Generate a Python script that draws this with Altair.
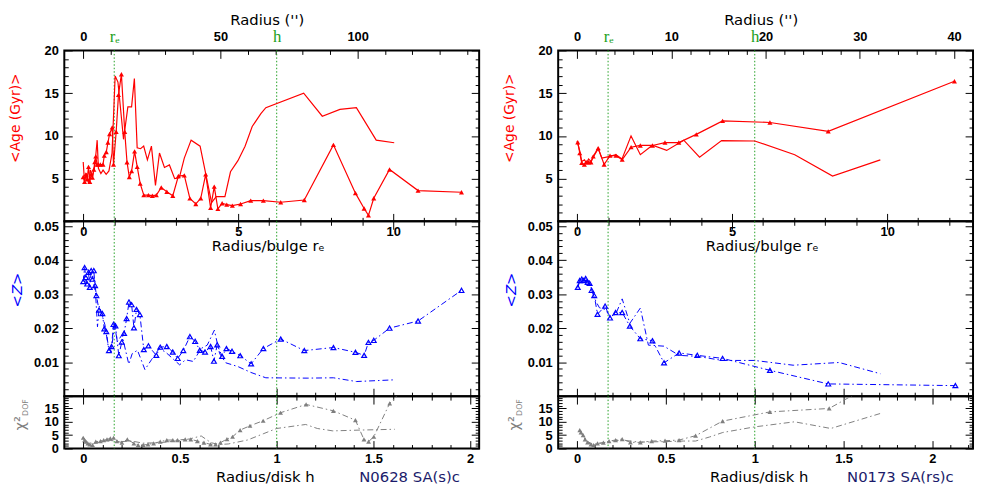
import altair as alt
import pandas as pd

# ---------------- values ----------------
# left galaxy
L_NAME = "N0628 SA(s)c"
L_RE_ARCSEC = 11.3           # bulge r_e in arcsec
L_H_RE = 6.24                # disk scale length h in units of r_e
L_ARC_LABELS = [0, 50, 100]
L_ARC_MINOR = [10, 20, 30, 40, 60, 70, 80, 90, 110, 120, 130, 140]

L_AGE_A_R = [0.0, 0.044, 0.086, 0.128, 0.171, 0.213, 0.256, 0.298, 0.341, 0.373, 0.404, 0.447, 0.489, 0.553,
             0.638, 0.68, 0.744, 0.797, 0.85, 0.935, 0.977, 1.063, 1.137, 1.232, 1.339, 1.413, 1.487, 1.561,
             1.657, 1.742, 1.838, 1.954, 2.103, 2.23, 2.358, 2.517, 2.697, 2.889, 3.069, 3.26, 3.44, 3.632,
             3.791, 3.95, 4.109, 4.226, 4.343, 4.481, 4.63, 4.81, 5.075, 5.404, 5.81, 6.37, 7.13, 8.07, 8.78,
             9.06, 9.20, 9.37, 9.88, 10.80, 12.20]
L_AGE_A = [5.19, 4.61, 5.49, 4.92, 6.38, 4.61, 5.49, 5.11, 6.07, 6.95, 7.61, 6.65, 6.65, 6.65, 6.65, 7.69, 8.11,
           9.22, 10.22, 10.99, 6.65, 10.49, 14.8, 17.22, 10.49, 6.92, 5.19, 5.88, 8.19, 6.38, 4.42, 3.07, 3.07,
           3.0, 3.07, 3.96, 3.46, 3.0, 5.3, 5.38, 2.69, 2.03, 2.69, 5.49, 1.57, 4.07, 1.46, 2.11, 1.96, 1.84,
           2.03, 2.42, 2.42, 2.23, 2.5, 8.95, 3.3, 1.5, 0.7, 2.7, 6.07, 3.6, 3.4]
L_AGE_B_R = [0.0, 0.04, 0.10, 0.17, 0.23, 0.30, 0.36, 0.40, 0.45, 0.49, 0.57, 0.64, 0.74, 0.83, 0.93, 1.03, 1.12,
             1.30, 1.44, 1.56, 1.65, 1.74, 1.85, 1.95, 2.07, 2.20, 2.33, 2.46, 2.62, 2.78, 2.95, 3.10, 3.26, 3.48,
             3.77, 4.14, 4.29, 4.57, 4.75, 4.99, 5.22, 5.45, 5.73, 5.89, 7.11, 7.71, 8.28, 8.81, 9.45, 10.03]
L_AGE_B = [6.95, 4.7, 5.6, 4.5, 6.0, 5.3, 6.2, 7.5, 9.5, 6.2, 5.6, 6.0, 5.5, 5.9, 8.0, 17.0, 16.3, 9.6, 13.4, 13.4,
           16.7, 8.6, 8.5, 8.8, 7.2, 8.8, 4.2, 8.0, 6.3, 6.6, 5.0, 5.1, 7.4, 9.5, 8.8, 2.2, 2.9, 2.9, 5.8, 7.1,
           8.8, 11.1, 12.6, 13.3, 15.0, 12.3, 13.1, 13.3, 9.5, 9.2]
L_Z_A_R = [0.0, 0.044, 0.086, 0.128, 0.171, 0.213, 0.256, 0.298, 0.341, 0.383, 0.425, 0.51, 0.617, 0.68, 0.744,
           0.829, 0.914, 0.977, 1.04, 1.148, 1.243, 1.318, 1.4, 1.477, 1.561, 1.636, 1.72, 1.827, 1.954, 2.103,
           2.358, 2.485, 2.697, 2.889, 3.048, 3.228, 3.44, 3.61, 3.76, 3.929, 4.109, 4.215, 4.321, 4.481, 4.619,
           4.8, 5.065, 5.415, 5.81, 6.37, 7.13, 8.07, 8.78, 9.06, 9.20, 9.37, 9.88, 10.80, 12.20]
L_Z_A = [0.0337, 0.0378, 0.0349, 0.0330, 0.0364, 0.0320, 0.0369, 0.0344, 0.0369, 0.0325, 0.0296, 0.0253, 0.0243,
         0.0198, 0.0190, 0.0134, 0.0146, 0.0211, 0.0207, 0.0119, 0.0159, 0.0185, 0.0228, 0.0277, 0.0269, 0.0201,
         0.0255, 0.0240, 0.0137, 0.0148, 0.0120, 0.0144, 0.0146, 0.0130, 0.0111, 0.0134, 0.0175, 0.0161, 0.0135,
         0.0130, 0.0146, 0.0103, 0.0151, 0.0117, 0.0140, 0.0132, 0.0119, 0.0095, 0.0140, 0.0168, 0.0134, 0.0143,
         0.0129, 0.0120, 0.0158, 0.0164, 0.0200, 0.0221, 0.0311]
L_Z_B_R = [0.0, 0.05, 0.10, 0.17, 0.25, 0.33, 0.40, 0.46, 0.52, 0.60, 0.70, 0.80, 0.90, 1.01, 1.10, 1.25, 1.47,
           1.58, 1.75, 1.99, 2.20, 2.45, 2.65, 3.11, 3.30, 3.55, 3.80, 4.00, 4.23, 4.40, 4.60, 4.99, 5.40, 5.89,
           7.22, 8.07, 8.81, 10.03]
L_Z_B = [0.0340, 0.0360, 0.0330, 0.0355, 0.0335, 0.0340, 0.0300, 0.0204, 0.0265, 0.0240, 0.0210, 0.0150, 0.0130,
         0.0210, 0.0160, 0.0180, 0.0094, 0.0125, 0.0135, 0.0078, 0.0107, 0.0140, 0.0130, 0.0092, 0.0107, 0.0102,
         0.0140, 0.0150, 0.0194, 0.0125, 0.0098, 0.0087, 0.0070, 0.0054, 0.0053, 0.0054, 0.0043, 0.0048]
L_CHI_A_H = [0.0, 0.007, 0.014, 0.024, 0.034, 0.048, 0.065, 0.089, 0.106, 0.123, 0.14, 0.157, 0.174, 0.2, 0.228,
             0.262, 0.284, 0.31, 0.335, 0.364, 0.398, 0.432, 0.463, 0.488, 0.527, 0.556, 0.59, 0.624, 0.658,
             0.684, 0.709, 0.743, 0.772, 0.811, 0.862, 0.93, 1.02, 1.152, 1.293, 1.407, 1.451, 1.475, 1.502,
             1.584, 1.73]
L_CHI_A = [4.04, 3.17, 2.55, 1.93, 1.56, 1.31, 2.55, 2.8, 3.17, 3.42, 3.79, 4.04, 2.8, 2.18, 3.42, 1.93, 1.31,
           1.31, 1.56, 1.93, 2.55, 3.17, 3.17, 3.17, 3.42, 3.42, 2.8, 2.18, 1.56, 1.56, 2.18, 3.54, 4.41, 6.9,
           8.52, 10.4, 13.4, 16.5, 14.1, 10.6, 3.4, 2.6, 4.4, 16.9, 28.0]
L_CHI_B_H = [0.0, 0.02, 0.05, 0.09, 0.14, 0.2, 0.25, 0.31, 0.4, 0.5, 0.55, 0.61, 0.66, 0.7, 0.75, 0.79, 0.85,
             0.93, 1.0, 1.15, 1.21, 1.29, 1.43, 1.61]
L_CHI_B = [4.0, 2.5, 1.8, 2.5, 3.0, 2.6, 2.8, 2.0, 2.2, 3.0, 3.6, 4.7, 2.2, 1.5, 1.7, 2.3, 3.2, 5.5, 7.5, 9.0, 7.5,
           6.6, 6.9, 7.2]

# right galaxy
R_NAME = "N0173 SA(rs)c"
R_RE_ARCSEC = 3.29
R_H_RE = 5.73
R_ARC_LABELS = [0, 10, 20, 30, 40]
R_ARC_MINOR = [2, 4, 6, 8, 12, 14, 16, 18, 22, 24, 26, 28, 32, 34, 36, 38]

R_AGE_A_R = [0.022, 0.086, 0.15, 0.235, 0.298, 0.373, 0.447, 0.521, 0.68, 0.872, 1.063, 1.254, 1.455, 1.742,
             2.039, 2.432, 2.835, 3.281, 3.844, 4.693, 6.22, 8.10, 12.17]
R_AGE_A = [9.26, 7.99, 6.84, 6.65, 6.92, 6.92, 6.92, 7.61, 8.57, 6.65, 7.69, 7.69, 7.22, 8.68, 8.88, 8.88, 9.22,
           9.22, 10.18, 11.76, 11.57, 10.53, 16.4]
R_AGE_B_R = [0.0, 0.09, 0.15, 0.24, 0.30, 0.37, 0.45, 0.52, 0.68, 0.80, 1.06, 1.25, 1.45, 1.74, 2.04, 2.43, 2.89,
             3.44, 3.95, 4.66, 5.73, 7.02, 8.24, 9.78]
R_AGE_B = [9.4, 8.2, 7.0, 7.2, 6.8, 7.3, 7.0, 7.5, 8.5, 7.4, 7.6, 7.8, 7.3, 10.0, 7.8, 8.9, 8.3, 9.5, 7.5, 9.45,
           9.4, 7.8, 5.3, 7.2]
R_Z_A_R = [0.022, 0.086, 0.15, 0.213, 0.277, 0.341, 0.404, 0.468, 0.553, 0.659, 0.903, 1.063, 1.243, 1.455, 1.70,
           2.039, 2.432, 2.804, 3.292, 3.876, 4.693, 6.22, 8.10, 12.20]
R_Z_A = [0.0320, 0.0340, 0.0344, 0.0340, 0.0346, 0.0335, 0.0332, 0.0311, 0.0296, 0.0241, 0.0265, 0.0230, 0.0246,
         0.0246, 0.0206, 0.0169, 0.0163, 0.0098, 0.0127, 0.0120, 0.0111, 0.0076, 0.0036, 0.0031]
R_Z_B_R = [0.022, 0.09, 0.2, 0.34, 0.45, 0.55, 0.63, 0.72, 0.90, 1.06, 1.24, 1.455, 1.70, 2.04, 2.30, 2.80, 3.29,
           3.88, 4.69, 5.73, 6.97, 8.45, 9.78]
R_Z_B = [0.0320, 0.0340, 0.0345, 0.0335, 0.0320, 0.0290, 0.0275, 0.0260, 0.0255, 0.0236, 0.0240, 0.0286, 0.0214,
         0.0259, 0.0150, 0.0147, 0.0120, 0.0117, 0.0105, 0.0105, 0.0091, 0.0099, 0.0066]
R_CHI_A_H = [0.015, 0.022, 0.034, 0.045, 0.059, 0.078, 0.093, 0.115, 0.148, 0.18, 0.217, 0.254, 0.30, 0.356, 0.42,
             0.495, 0.574, 0.667, 0.819, 1.085, 1.419, 2.12]
R_CHI_A = [6.9, 6.03, 5.04, 3.42, 2.3, 1.56, 1.31, 1.93, 2.18, 2.8, 3.17, 3.54, 2.3, 2.3, 2.8, 2.92, 3.17, 4.79,
           10.26, 13.7, 15.0, 41.0]
R_CHI_B_H = [0.015, 0.03, 0.06, 0.09, 0.15, 0.25, 0.35, 0.5, 0.6, 0.667, 0.745, 0.82, 1.0, 1.224, 1.428, 1.706]
R_CHI_B = [6.9, 5.0, 2.6, 1.5, 2.2, 3.2, 2.4, 2.6, 2.8, 2.8, 4.3, 6.0, 8.1, 10.0, 7.5, 13.1]

# shared tick labels
RE_LABELS = [0, 5, 10]
RE_MINOR = [1, 2, 3, 4, 6, 7, 8, 9, 11, 12]
H_LABELS = [0, 0.5, 1, 1.5, 2]
H_MINOR = [0.1, 0.2, 0.3, 0.4, 0.6, 0.7, 0.8, 0.9, 1.1, 1.2, 1.3, 1.4, 1.6, 1.7, 1.8, 1.9, 2.1, 2.2]
AGE_LABELS = [5, 10, 15, 20]
AGE_MAJOR = [0, 5, 10, 15, 20]
AGE_MINOR = [1, 2, 3, 4, 6, 7, 8, 9, 11, 12, 13, 14, 16, 17, 18, 19]
Z_LABELS = [0.01, 0.02, 0.03, 0.04, 0.05]
Z_MAJOR = [0, 0.01, 0.02, 0.03, 0.04, 0.05]
Z_MINOR = [0.002, 0.004, 0.006, 0.008, 0.012, 0.014, 0.016, 0.018, 0.022, 0.024, 0.026, 0.028,
           0.032, 0.034, 0.036, 0.038, 0.042, 0.044, 0.046, 0.048]
CHI_LABELS = [0, 5, 10, 15]
CHI_MINOR = [1, 2, 3, 4, 6, 7, 8, 9, 11, 12, 13, 14, 16, 17, 18, 19]

# ---------------- layout / style ----------------
W = 420
H_AGE, H_Z, H_CHI = 173, 177, 53
XDOM = [-0.61, 12.77]
AGE_DOM = [0, 20]
Z_DOM = [0, 0.0514]
CHI_DOM = [0, 19.6]
RED, BLUE, GRAY, GREEN, NAVY = "#ff0000", "#0000ff", "#7f7f7f", "#22a022", "#1b1b6b"
MAJ, MIN = 8, 4
DASHDOT = [6, 3, 1.5, 3]
LBL = dict(labelFont="Liberation Sans", labelFontSize=13, labelFontWeight="bold", labelColor="black")
TTL = dict(titleFont="DejaVu Sans", titleFontSize=15, titleFontWeight="normal", titleColor="black")


def X(axis=None):
    return alt.X("x:Q", scale=alt.Scale(domain=XDOM, nice=False, zero=False), axis=axis)


def Y(dom, axis=None):
    return alt.Y("y:Q", scale=alt.Scale(domain=dom, nice=False, zero=False), axis=axis)


def tick_axis(orient, offset, values, size):
    return alt.Axis(orient=orient, offset=offset, values=values, labels=False, ticks=True,
                    tickSize=size, tickWidth=1, tickColor="black", domain=False, grid=False, title=None)


def y_axes(lab_axis, major, minor):
    return [lab_axis,
            tick_axis("right", -W, major, MAJ), tick_axis("right", -W, minor, MIN),
            tick_axis("left", -W, major, MAJ), tick_axis("left", -W, minor, MIN)]


def assemble(data_layers, df, dom, xaxes, yaxes, height):
    n = max(len(xaxes), len(yaxes))
    xs = xaxes + [None] * (n - len(xaxes))
    ys = yaxes + [None] * (n - len(yaxes))
    carriers = [alt.Chart(df).mark_point(opacity=0).encode(x=X(xa), y=Y(dom, ya)) for xa, ya in zip(xs, ys)]
    return (alt.layer(*data_layers, *carriers)
            .resolve_axis(x="independent", y="independent")
            .properties(width=W, height=height))


def column(name, re_arc, h_re, arc_labels, arc_minor, age_a_r, age_a, age_b_r, age_b,
           z_a_r, z_a, z_b_r, z_b, chi_a_h, chi_a, chi_b_h, chi_b):
    rules_df = pd.DataFrame({"x": [1.0, h_re]})
    arc_lab = [v / re_arc for v in arc_labels]
    arc_min = [v / re_arc for v in arc_minor]
    h_lab = [v * h_re for v in H_LABELS if v * h_re <= XDOM[1]]
    h_min = [v * h_re for v in H_MINOR if v * h_re <= XDOM[1]]

    def rules():
        return alt.Chart(rules_df).mark_rule(color=GREEN, strokeDash=[1.5, 2], strokeWidth=1).encode(x=X())

    # ---- age panel ----
    da = pd.DataFrame({"x": age_a_r, "y": age_a})
    db = pd.DataFrame({"x": age_b_r, "y": age_b})
    age_layers = [
        rules(),
        alt.Chart(db).mark_line(color=RED, strokeWidth=1.2, clip=True).encode(x=X(), y=Y(AGE_DOM)),
        alt.Chart(da).mark_line(color=RED, strokeWidth=1.2, clip=True).encode(x=X(), y=Y(AGE_DOM)),
        alt.Chart(da).mark_point(shape="triangle-up", filled=True, size=26, color=RED, opacity=1,
                                 clip=True).encode(x=X(), y=Y(AGE_DOM)),
    ]
    age_x = [
        alt.Axis(orient="top", values=arc_lab, labelExpr=f"format(datum.value * {re_arc}, '.0f')",
                 ticks=False, tickSize=0, labelPadding=7, domain=False, grid=False,
                 title="Radius ('')", titleX=205, titleY=-26.5, titleAlign="center",
                 titleBaseline="alphabetic", titleAngle=0, **LBL, **TTL),
        tick_axis("bottom", -H_AGE, arc_lab, MAJ),
        tick_axis("bottom", -H_AGE, arc_min, MIN),
        tick_axis("top", -H_AGE, RE_LABELS, MAJ),
        tick_axis("top", -H_AGE, RE_MINOR, MIN),
        alt.Axis(orient="top", values=[1.0, h_re], labelExpr="datum.value < 2 ? 'rₑ' : 'h'",
                 ticks=False, tickSize=0, labelPadding=9, labelBaseline="alphabetic",
                 labelFont="Liberation Serif", labelFontSize=17, labelColor=GREEN,
                 domain=False, grid=False, title=None),
    ]
    age_y = y_axes(alt.Axis(orient="left", values=AGE_LABELS, ticks=False, tickSize=0, labelPadding=6,
                            domain=False, grid=False, title="<Age (Gyr)>", titleX=-45, titleY=68,
                            titleAngle=270, titleAlign="center", titleBaseline="alphabetic",
                            **LBL, **dict(TTL, titleColor=RED, titleFontSize=14)),
                   AGE_MAJOR, AGE_MINOR)
    age = assemble(age_layers, da, AGE_DOM, age_x, age_y, H_AGE)

    # ---- metallicity panel ----
    za = pd.DataFrame({"x": z_a_r, "y": z_a})
    zb = pd.DataFrame({"x": z_b_r, "y": z_b})
    z_layers = [
        rules(),
        alt.Chart(zb).mark_line(color=BLUE, strokeWidth=1, strokeDash=DASHDOT, clip=True).encode(x=X(), y=Y(Z_DOM)),
        alt.Chart(za).mark_line(color=BLUE, strokeWidth=1, strokeDash=DASHDOT, clip=True).encode(x=X(), y=Y(Z_DOM)),
        alt.Chart(za).mark_point(shape="triangle-up", filled=False, size=24, color=BLUE, strokeWidth=1.2,
                                 opacity=1, clip=True).encode(x=X(), y=Y(Z_DOM)),
    ]
    z_x = [
        alt.Axis(orient="bottom", offset=-H_Z, values=RE_LABELS, ticks=False, tickSize=0, labelPadding=4,
                 domain=False, grid=False, title="Radius/bulge rₑ", titleX=206, titleY=29.5,
                 titleAlign="center", titleBaseline="alphabetic", titleAngle=0, **LBL, **TTL),
        tick_axis("bottom", -H_Z, RE_LABELS, MAJ),
        tick_axis("bottom", -H_Z, RE_MINOR, MIN),
        tick_axis("top", -H_Z, h_lab, MAJ),
        tick_axis("top", -H_Z, h_min, MIN),
    ]
    z_y = y_axes(alt.Axis(orient="left", values=Z_LABELS, format=".2f", ticks=False, tickSize=0, labelPadding=6,
                          domain=False, grid=False, title="<Z>", titleX=-43, titleY=69, titleAngle=270,
                          titleAlign="center", titleBaseline="alphabetic",
                          **LBL, **dict(TTL, titleColor=BLUE, titleFontStyle="italic")),
                 Z_MAJOR, Z_MINOR)
    zp = assemble(z_layers, za, Z_DOM, z_x, z_y, H_Z)

    # ---- chi2 panel ----
    ca = pd.DataFrame({"x": [v * h_re for v in chi_a_h], "y": chi_a})
    cb = pd.DataFrame({"x": [v * h_re for v in chi_b_h], "y": chi_b})
    c_layers = [
        rules(),
        alt.Chart(cb).mark_line(color=GRAY, strokeWidth=1, strokeDash=DASHDOT, clip=True).encode(x=X(), y=Y(CHI_DOM)),
        alt.Chart(ca).mark_line(color=GRAY, strokeWidth=1, strokeDash=DASHDOT, clip=True).encode(x=X(), y=Y(CHI_DOM)),
        alt.Chart(ca).mark_point(shape="triangle-up", filled=True, size=24, color=GRAY, opacity=1,
                                 clip=True).encode(x=X(), y=Y(CHI_DOM)),
    ]
    c_x = [
        alt.Axis(orient="bottom", values=h_lab, labelExpr=f"format(datum.value / {h_re}, '.2~f')",
                 ticks=False, tickSize=0, labelPadding=4, domain=False, grid=False,
                 title="Radius/disk h", titleX=203, titleY=33, titleAlign="center",
                 titleBaseline="alphabetic", titleAngle=0, **LBL, **TTL),
        tick_axis("top", -H_CHI, h_lab, MAJ),
        tick_axis("top", -H_CHI, h_min, MIN),
        tick_axis("bottom", -H_CHI, h_lab, MAJ),
        tick_axis("bottom", -H_CHI, h_min, MIN),
        alt.Axis(orient="bottom", labels=False, ticks=False, tickSize=0, domain=False, grid=False,
                 title=name, titleX=400, titleY=33, titleAlign="right", titleBaseline="alphabetic",
                 titleAngle=0, **dict(TTL, titleColor=NAVY)),
    ]
    c_y = y_axes(alt.Axis(orient="left", values=CHI_LABELS, ticks=False, tickSize=0, labelPadding=6,
                          domain=False, grid=False, title="χ²", titleX=-40, titleY=27, titleAngle=270,
                          titleAlign="center", titleBaseline="alphabetic",
                          **LBL, **dict(TTL, titleColor=GRAY)),
                 AGE_MAJOR[:4], CHI_MINOR)
    c_y.append(alt.Axis(orient="left", labels=False, ticks=False, tickSize=0, domain=False, grid=False,
                        title="DOF", titleX=-37, titleY=11, titleAngle=270, titleAlign="center",
                        titleBaseline="alphabetic", titleFont="DejaVu Sans", titleFontSize=8,
                        titleFontWeight="normal", titleColor=GRAY))
    cp = assemble(c_layers, ca, CHI_DOM, c_x, c_y, H_CHI)

    return alt.vconcat(age, zp, cp, spacing=0, bounds="flush")


left = column(L_NAME, L_RE_ARCSEC, L_H_RE, L_ARC_LABELS, L_ARC_MINOR, L_AGE_A_R, L_AGE_A, L_AGE_B_R, L_AGE_B,
              L_Z_A_R, L_Z_A, L_Z_B_R, L_Z_B, L_CHI_A_H, L_CHI_A, L_CHI_B_H, L_CHI_B)
right = column(R_NAME, R_RE_ARCSEC, R_H_RE, R_ARC_LABELS, R_ARC_MINOR, R_AGE_A_R, R_AGE_A, R_AGE_B_R, R_AGE_B,
               R_Z_A_R, R_Z_A, R_Z_B_R, R_Z_B, R_CHI_A_H, R_CHI_A, R_CHI_B_H, R_CHI_B)

chart = (alt.hconcat(left, right, spacing=21)
         .properties(padding=0, background="white")
         .configure_view(stroke="black", strokeWidth=2)
         .configure_axis(grid=False, domain=False, labelFlush=False, labelOverlap=False))

chart.save("out.html", embed_options={"renderer": "svg", "actions": False})
